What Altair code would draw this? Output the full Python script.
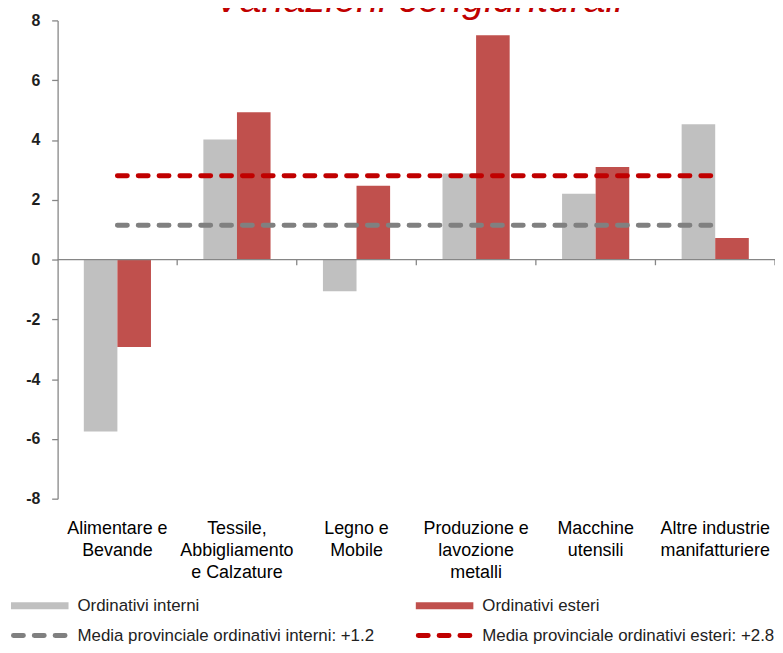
import altair as alt
import pandas as pd

# ---------------- data ----------------
categorie = [
    "Alimentare e\nBevande",
    "Tessile,\nAbbigliamento\ne Calzature",
    "Legno e\nMobile",
    "Produzione e\nlavozione\nmetalli",
    "Macchine\nutensili",
    "Altre industrie\nmanifatturiere",
]
serie = ["Ordinativi interni", "Ordinativi esteri"]
interni = [-5.75, 4.02, -1.06, 2.88, 2.2, 4.53]
esteri = [-2.93, 4.93, 2.47, 7.5, 3.1, 0.72]
medie_etichette = [
    "Media provinciale ordinativi interni: +1.2",
    "Media provinciale ordinativi esteri: +2.8",
]
medie_valori = [1.15, 2.8]
titolo = "Variazioni  congiunturali"
y_ticks = [-8, -6, -4, -2, 0, 2, 4, 6, 8]

# ---------------- style ----------------
colori_barre = ["#C0C0C0", "#C0504D"]
colori_medie = ["#808080", "#C00000"]
FONT = "Liberation Sans"
AXIS_GREY = "#868686"
W, H = 723, 482

bars_df = pd.DataFrame({
    "categoria": categorie * 2,
    "serie": [serie[0]] * len(categorie) + [serie[1]] * len(categorie),
    "valore": interni + esteri,
})
lines_df = pd.DataFrame({
    "categoria": [categorie[0], categorie[-1]] * 2,
    "media": [medie_etichette[0]] * 2 + [medie_etichette[1]] * 2,
    "valore": [medie_valori[0]] * 2 + [medie_valori[1]] * 2,
})
cat_df = pd.DataFrame({"categoria": categorie})
one_df = pd.DataFrame({"k": [0]})

x_scale = alt.Scale(domain=categorie, paddingInner=0, paddingOuter=0)
y_scale = alt.Scale(domain=[-8, 8], nice=False)

x_axis = alt.Axis(
    title=None, domain=False, ticks=False, labelAngle=0,
    labelExpr="split(datum.label, '\\n')",
    labelFont=FONT, labelFontSize=18, labelColor="#000000",
    labelPadding=21, labelLineHeight=22, labelLimit=0,
    labelOverlap=False, labelBound=False, labelFlush=False,
)
y_axis = alt.Axis(
    title=None, values=y_ticks, grid=False,
    domainColor=AXIS_GREY, domainWidth=1.3,
    tickColor=AXIS_GREY, tickWidth=1.3, tickSize=6,
    labelExpr="'' + datum.value",
    labelFont=FONT, labelFontSize=16, labelFontWeight="bold",
    labelColor="#1f1f1f", labelPadding=12, labelFlush=False,
)

x_enc = alt.X("categoria:N", scale=x_scale, axis=x_axis)
y_enc = alt.Y("valore:Q", scale=y_scale, axis=y_axis)

bars = alt.Chart(bars_df).mark_bar().encode(
    x=x_enc,
    xOffset=alt.XOffset("serie:N", sort=serie,
                        scale=alt.Scale(domain=serie, paddingInner=0, paddingOuter=0.78)),
    y=y_enc,
    fill=alt.Fill("serie:N", scale=alt.Scale(domain=serie, range=colori_barre), legend=None),
)

zero_line = alt.Chart(one_df).mark_rule(color=AXIS_GREY, strokeWidth=1.3).encode(
    y=alt.YDatum(0, scale=y_scale, axis=y_axis),
)

ticks = alt.Chart(cat_df).mark_rule(color=AXIS_GREY, strokeWidth=1.3).encode(
    x=alt.X("categoria:N", scale=x_scale, axis=x_axis, bandPosition=1),
    y=alt.YDatum(0, scale=y_scale, axis=y_axis),
    y2=alt.Y2Datum(-0.19),
)

medie = alt.Chart(lines_df).mark_line(
    strokeWidth=5, strokeCap="round", strokeDash=[10, 11]
).encode(
    x=x_enc,
    y=y_enc,
    stroke=alt.Stroke("media:N", scale=alt.Scale(domain=medie_etichette, range=colori_medie), legend=None),
    detail="media:N",
)

# ---------------- manual legend ----------------
legend_layers = []
row1_y, row2_y = 590, 620
col_x = [-47, 361]
for i in range(2):
    legend_layers.append(
        alt.Chart(one_df).mark_rect(color=colori_barre[i]).encode(
            x=alt.value(col_x[i]), x2=alt.value(col_x[i] + 58),
            y=alt.value(row1_y - 3.5), y2=alt.value(row1_y + 3.5),
        )
    )
    legend_layers.append(
        alt.Chart(pd.DataFrame({"t": [serie[i]]})).mark_text(
            font=FONT, fontSize=17, color="#222222", align="left", baseline="middle"
        ).encode(text="t:N", x=alt.value(col_x[i] + 67), y=alt.value(row1_y))
    )
    legend_layers.append(
        alt.Chart(one_df).mark_rule(
            color=colori_medie[i], strokeWidth=5, strokeCap="round", strokeDash=[10, 11]
        ).encode(
            x=alt.value(col_x[i] + 2.5), x2=alt.value(col_x[i] + 55.5), y=alt.value(row2_y),
        )
    )
    legend_layers.append(
        alt.Chart(pd.DataFrame({"t": [medie_etichette[i]]})).mark_text(
            font=FONT, fontSize=17, color="#222222", align="left", baseline="middle"
        ).encode(text="t:N", x=alt.value(col_x[i] + 67), y=alt.value(row2_y))
    )

title_layer = alt.Chart(pd.DataFrame({"t": [titolo]})).mark_text(
    font=FONT, fontSize=40, fontStyle="italic", color="#C00000",
    align="center", baseline="alphabetic",
).encode(text="t:N", x=alt.value(364), y=alt.value(-8))

chart = alt.layer(
    bars, zero_line, ticks, medie, title_layer, *legend_layers
).properties(
    width=W, height=H,
    autosize=alt.AutoSizeParams(type="none"),
    padding={"left": 50, "top": 10, "right": 0, "bottom": 149},
    background="white",
).configure_view(stroke=None)

chart.save("out.html", embed_options={"renderer": "svg", "actions": False})
